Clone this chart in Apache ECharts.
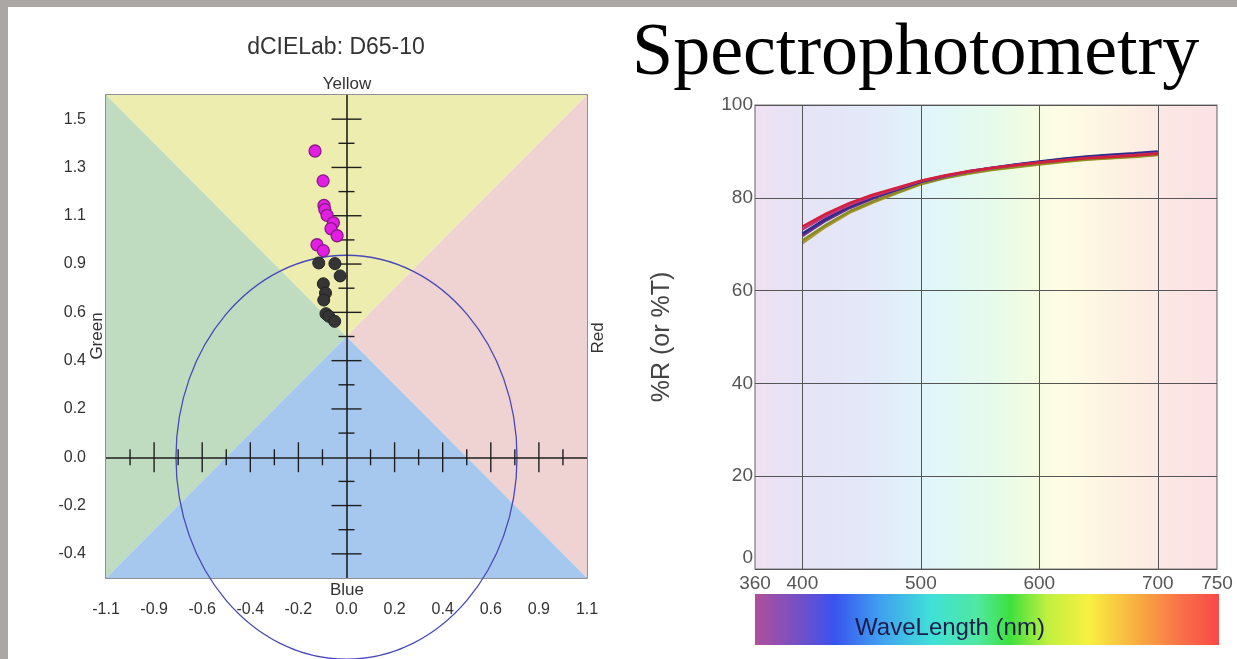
<!DOCTYPE html>
<html><head><meta charset="utf-8">
<script src="https://cdn.jsdelivr.net/npm/echarts@6/dist/echarts.min.js"></script>
<style>html,body{margin:0;padding:0;background:#fff;}#c{width:1237px;height:659px;}</style>
</head><body><div id="c"></div>
<script>
// ---------- Left chart: dCIELab ----------
const labTitle = 'dCIELab: D65-10';
const daTickLabels = ['-1.1','-0.9','-0.6','-0.4','-0.2','0.0','0.2','0.4','0.6','0.9','1.1'];
const dbTickValues = [-0.44,-0.22,0,0.22,0.44,0.66,0.88,1.1,1.32,1.54];
const dbTickLabels = ['-0.4','-0.2','0.0','0.2','0.4','0.6','0.9','1.1','1.3','1.5'];
const aMajorTicks = [-0.88,-0.66,-0.44,-0.22,0.22,0.44,0.66,0.88];
const aMinorTicks = [-0.99,-0.77,-0.55,-0.33,-0.11,0.11,0.33,0.55,0.77,0.99];
const bMajorTicks = [-0.44,-0.22,0.22,0.44,0.66,0.88,1.1,1.32,1.54];
const bMinorTicks = [-0.33,-0.11,0.11,0.33,0.55,0.77,0.99,1.21,1.43];
const magentaPoints = [[-0.144,1.395],[-0.107,1.259],[-0.103,1.147],[-0.099,1.128],[-0.089,1.102],
  [-0.060,1.068],[-0.071,1.041],[-0.043,1.009],[-0.135,0.968],[-0.106,0.941]];
const darkPoints = [[-0.127,0.885],[-0.053,0.882],[-0.029,0.826],[-0.106,0.790],[-0.096,0.748],
  [-0.104,0.716],[-0.094,0.654],[-0.081,0.642],[-0.054,0.619]];
const toleranceEllipse = [[0, 0, 0.78, 0.92]]; // center da, center db, radius da, radius db
const sideNames = {top:'Yellow', bottom:'Blue', left:'Green', right:'Red'};

// ---------- Right chart: Spectrophotometry ----------
const specTitle = 'Spectrophotometry';
const wavelengths = [400,420,440,460,480,500,520,540,560,580,600,620,640,660,680,700];
const specXTicks = [360,400,500,600,700,750];
const specGridX = [400,500,600,700];
const curveRed     = [73.8,76.6,78.9,80.7,82.2,83.7,84.8,85.7,86.4,87.0,87.6,88.1,88.5,88.8,89.1,89.5];
const curveMagenta = [73.2,76.1,78.5,80.4,82.0,83.6,84.7,85.6,86.4,87.0,87.6,88.1,88.6,88.9,89.2,89.6];
const curveNavy    = [72.3,75.5,78.1,80.1,81.8,83.5,84.7,85.7,86.5,87.2,87.8,88.4,88.9,89.3,89.6,90.0];
const curvePurple  = [71.8,75.1,77.8,79.9,81.7,83.4,84.6,85.6,86.4,87.1,87.7,88.3,88.8,89.1,89.4,89.8];
const curveOlive   = [70.8,74.2,77.1,79.3,81.2,83.0,84.3,85.3,86.1,86.7,87.3,87.8,88.3,88.6,88.9,89.3];
const curveMustard = [70.2,73.8,76.8,79.0,81.0,82.9,84.2,85.2,86.0,86.6,87.2,87.7,88.2,88.5,88.8,89.2];

// ---------- styling ----------
const FONT = 'Liberation Sans, Arial, sans-serif';
const quadColors = {top:'#eeedb0', left:'#c0dcc0', right:'#efd2d2', bottom:'#a6c8ee'};
const lineColors = ['#a89a30','#8a8a22','#6a2f86','#2c2c8c','#c8307a','#d0203c'];

const chart = echarts.init(document.getElementById('c'), null, {renderer:'canvas'});

function pairs(xs, ys){ return xs.map((x,i)=>[x, ys[i]]); }
const tickData = [].concat(
  aMajorTicks.map(v=>[0,v,1]), aMinorTicks.map(v=>[0,v,0]),
  bMajorTicks.map(v=>[1,v,1]), bMinorTicks.map(v=>[1,v,0]));

const curves = [curveMustard, curveOlive, curvePurple, curveNavy, curveMagenta, curveRed];

const option = {
  animation: false,
  backgroundColor: '#ffffff',
  grid: [
    {left:106, top:95, width:481, height:483, show:true, borderColor:'#6e6e6e', borderWidth:1.5, backgroundColor:'transparent'},
    {left:755, top:105, width:462, height:464, show:true, borderColor:'#7a7a7a', borderWidth:1.2,
      backgroundColor:{type:'linear', x:0, y:0, x2:1, y2:0, colorStops:[
        {offset:0, color:'#efe1f1'},{offset:0.1, color:'#e6e3f7'},{offset:0.25, color:'#e3e9f9'},
        {offset:0.38, color:'#e0f6fa'},{offset:0.52, color:'#e7fbea'},{offset:0.6, color:'#f3fce2'},
        {offset:0.66, color:'#fefde4'},{offset:0.8, color:'#fdf1e2'},{offset:0.9, color:'#fce6e4'},
        {offset:1, color:'#fbe1e4'}]}}
  ],
  xAxis: [
    {gridIndex:0, type:'value', min:-1.1, max:1.1, interval:0.22,
      axisLine:{show:false}, axisTick:{show:false}, splitLine:{show:false},
      axisLabel:{margin:24, fontSize:16, color:'#333', fontFamily:FONT, showMinLabel:true, showMaxLabel:true,
        formatter:(v)=>daTickLabels[Math.round((v+1.1)/0.22)]}},
    {gridIndex:1, type:'value', min:360, max:750,
      axisLine:{show:false}, axisTick:{show:false}, splitLine:{show:false},
      axisLabel:{customValues:specXTicks, margin:5, fontSize:19, color:'#555', fontFamily:FONT}}
  ],
  yAxis: [
    {gridIndex:0, type:'value', min:-0.55, max:1.65,
      axisLine:{show:false}, axisTick:{show:false}, splitLine:{show:false},
      axisLabel:{customValues:dbTickValues, margin:20, fontSize:16, color:'#333', fontFamily:FONT,
        formatter:(v)=>{let bi=0,bd=1e9;dbTickValues.forEach((t,i)=>{const d=Math.abs(t-v);if(d<bd){bd=d;bi=i;}});return dbTickLabels[bi];}}},
    {gridIndex:1, type:'value', min:0, max:100, interval:20,
      axisLine:{show:false}, axisTick:{show:false},
      splitLine:{show:true, lineStyle:{color:'#555', width:1}},
      axisLabel:{margin:2, fontSize:19, color:'#555', fontFamily:FONT,
        formatter:(v)=> v === 0 ? '{lift|0}' : String(v),
        rich:{lift:{fontSize:19, color:'#555', fontFamily:FONT, padding:[0,0,22,0]}}},
      name:'%R (or %T)', nameLocation:'middle', nameGap:80, nameMoveOverlap:false,
      nameTextStyle:{fontSize:25, color:'#444', fontFamily:FONT}}
  ],
  series: [
    {type:'custom', name:'quadrants', xAxisIndex:0, yAxisIndex:0, silent:true, z:0, data:[[0,0]],
      renderItem:(params, api)=>{
        const r = params.coordSys; const cx = r.x + r.width/2, cy = r.y + r.height/2;
        const L=r.x, R=r.x+r.width, T=r.y, B=r.y+r.height;
        const poly=(pts,c)=>({type:'polygon', shape:{points:pts}, style:{fill:c}});
        return {type:'group', children:[
          poly([[L,T],[R,T],[cx,cy]], quadColors.top),
          poly([[L,T],[L,B],[cx,cy]], quadColors.left),
          poly([[R,T],[R,B],[cx,cy]], quadColors.right),
          poly([[L,B],[R,B],[cx,cy]], quadColors.bottom)]};
      }},
    {type:'custom', name:'axisTicks', xAxisIndex:0, yAxisIndex:0, silent:true, z:2, data:tickData,
      renderItem:(params, api)=>{
        const dim = api.value(0), v = api.value(1), h = api.value(2) ? 15 : 8;
        const p = dim === 0 ? api.coord([v, 0]) : api.coord([0, v]);
        const shape = dim === 0 ? {x1:p[0], y1:p[1]-h, x2:p[0], y2:p[1]+h} : {x1:p[0]-h, y1:p[1], x2:p[0]+h, y2:p[1]};
        return {type:'line', shape, style:{stroke:'#1e1e1e', lineWidth:1.4}};
      },
      markLine:{silent:true, symbol:['none','none'], label:{show:false},
        lineStyle:{color:'#1e1e1e', width:1.6, type:'solid'},
        data:[{xAxis:0},{yAxis:0}]}},
    {type:'custom', name:'tolerance', xAxisIndex:0, yAxisIndex:0, silent:true, z:3, clip:false, data:toleranceEllipse,
      renderItem:(params, api)=>{
        const c = api.coord([api.value(0), api.value(1)]);
        const s = api.size([api.value(2), api.value(3)]);
        return {type:'ellipse', shape:{cx:c[0], cy:c[1], rx:s[0], ry:s[1]},
          style:{fill:'none', stroke:'#4848b8', lineWidth:1.3}};
      }},
    {type:'scatter', name:'batch', xAxisIndex:0, yAxisIndex:0, z:5, data:magentaPoints, symbolSize:12,
      itemStyle:{color:'#e21ee2', borderColor:'#8a1a8a', borderWidth:1.3, opacity:1}},
    {type:'scatter', name:'standard', xAxisIndex:0, yAxisIndex:0, z:5, data:darkPoints, symbolSize:12,
      itemStyle:{color:'#353535', borderColor:'#222', borderWidth:1, opacity:1}},
    {type:'line', name:'gridX', xAxisIndex:1, yAxisIndex:1, data:[], z:1,
      markLine:{silent:true, symbol:['none','none'], label:{show:false},
        lineStyle:{color:'#555', width:1, type:'solid'},
        data:specGridX.map(v=>({xAxis:v}))}}
  ].concat(curves.map((c,i)=>({
      type:'line', xAxisIndex:1, yAxisIndex:1, z:4+i, data:pairs(wavelengths, c),
      showSymbol:false, symbol:'none', lineStyle:{color:lineColors[i], width:2.5}}))),
  graphic: [
    {type:'rect', left:0, top:0, shape:{width:1237, height:7}, style:{fill:'#aaa7a5'}, silent:true},
    {type:'rect', left:0, top:0, shape:{width:8, height:659}, style:{fill:'#aaa7a5'}, silent:true},
    {type:'text', x:336, y:48, style:{text:labTitle, font:'23px '+FONT, fill:'#333', align:'center', verticalAlign:'middle'}},
    {type:'text', x:347, y:84, style:{text:sideNames.top, font:'17px '+FONT, fill:'#333', align:'center', verticalAlign:'middle'}},
    {type:'text', x:347, y:590, style:{text:sideNames.bottom, font:'17px '+FONT, fill:'#333', align:'center', verticalAlign:'middle'}},
    {type:'text', x:97, y:336, rotation:Math.PI/2, style:{text:sideNames.left, font:'17px '+FONT, fill:'#333', align:'center', verticalAlign:'middle'}},
    {type:'text', x:598, y:338, rotation:Math.PI/2, style:{text:sideNames.right, font:'17px '+FONT, fill:'#333', align:'center', verticalAlign:'middle'}},
    {type:'text', x:632, y:55, style:{text:specTitle, font:'74px Liberation Serif, Times New Roman, serif', fill:'#000', align:'left', verticalAlign:'middle'}},
    {type:'rect', x:755, y:594, shape:{width:464, height:51}, silent:true,
      style:{fill:{type:'linear', x:0, y:0, x2:1, y2:0, colorStops:[
        {offset:0, color:'#b0509a'},{offset:0.1, color:'#7050c8'},{offset:0.17, color:'#3a52f0'},
        {offset:0.27, color:'#40a0f0'},{offset:0.38, color:'#40e0d8'},{offset:0.48, color:'#50e8a0'},
        {offset:0.55, color:'#3ee03e'},{offset:0.63, color:'#c0f040'},{offset:0.72, color:'#f8f040'},
        {offset:0.82, color:'#f8b040'},{offset:0.92, color:'#f87048'},{offset:1, color:'#f84848'}]}}},
    {type:'text', x:950, y:628, style:{text:'WaveLength (nm)', font:'24px '+FONT, fill:'#1c1c4c', align:'center', verticalAlign:'middle'}}
  ]
};
chart.setOption(option);
</script></body></html>
